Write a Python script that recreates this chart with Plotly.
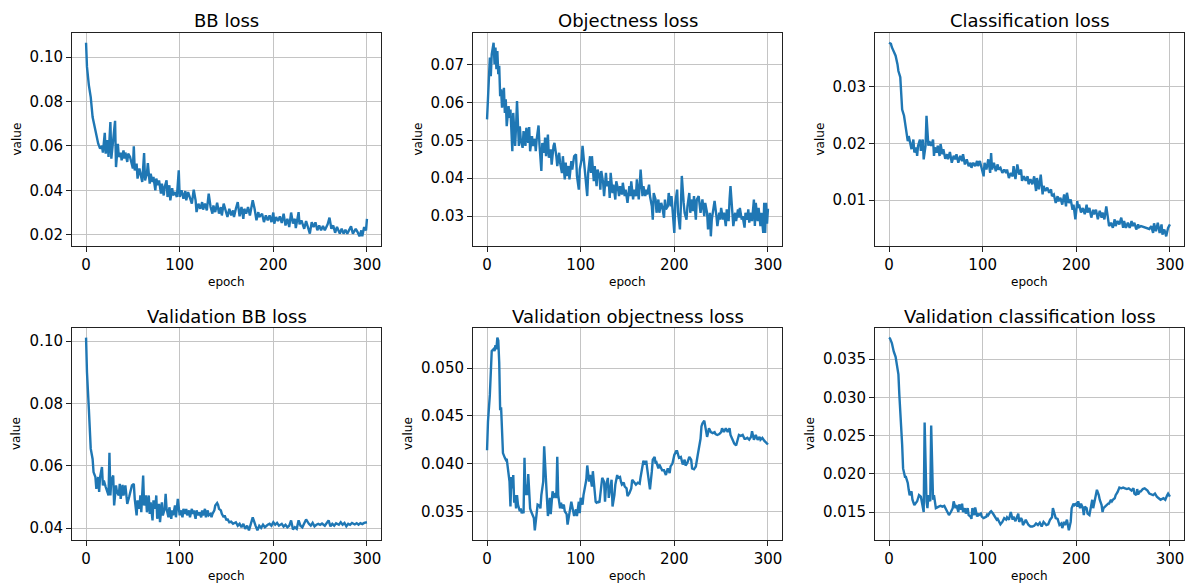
import plotly.graph_objects as go

# ---------------- data ----------------
bb_epoch = [0,1,3,5,7,9,11,13,15,17,18,20,21,23,24,26,27,29,31,32,34,35,37,38,40,41,42,44,45,47,50,51,52,54,55,57,58,60,62,63,65,66,68,69,71,72,74,75,77,78,80,81,83,84,86,87,89,90,92,93,95,97,99,100,102,104,106,107,109,111,113,115,117,118,120,122,124,125,127,129,131,133,135,136,138,140,142,144,145,147,149,151,153,155,157,158,160,162,164,166,168,169,171,173,175,177,178,180,182,184,185,188,190,192,194,196,198,200,201,203,205,207,209,211,213,215,217,219,221,223,224,227,228,230,233,235,237,239,241,243,245,247,249,251,253,255,258,260,262,264,266,268,271,273,275,277,279,281,283,285,288,290,292,294,295,297,299,300]
bb_loss = [0.1065,0.0956,0.0874,0.082,0.073,0.0686,0.065,0.061,0.0588,0.060,0.057,0.0659,0.0565,0.0626,0.055,0.0708,0.0543,0.064,0.0713,0.0505,0.061,0.055,0.057,0.0535,0.058,0.0543,0.057,0.0528,0.0565,0.055,0.0498,0.0598,0.049,0.052,0.0453,0.0498,0.0475,0.0438,0.0568,0.0445,0.0475,0.0523,0.043,0.0475,0.0438,0.046,0.040,0.0453,0.0423,0.0445,0.0385,0.043,0.0377,0.0415,0.0445,0.037,0.0423,0.0355,0.041,0.0377,0.0392,0.037,0.049,0.037,0.040,0.0362,0.0397,0.0355,0.0392,0.037,0.034,0.0403,0.0355,0.0302,0.034,0.0317,0.0347,0.0313,0.034,0.031,0.0385,0.0325,0.0295,0.0332,0.0302,0.0344,0.0295,0.0325,0.0287,0.034,0.031,0.028,0.0317,0.0287,0.031,0.028,0.0317,0.0347,0.0283,0.0325,0.0272,0.0317,0.0295,0.0325,0.0287,0.0332,0.0355,0.0317,0.0265,0.0302,0.028,0.0295,0.0257,0.0287,0.0265,0.0287,0.0257,0.030,0.025,0.028,0.0262,0.0283,0.0253,0.0295,0.0242,0.0272,0.0235,0.030,0.025,0.0272,0.023,0.0302,0.0247,0.0265,0.0227,0.0262,0.0235,0.0205,0.0257,0.0235,0.0256,0.022,0.0242,0.022,0.0239,0.022,0.0247,0.0277,0.0227,0.0242,0.0209,0.0235,0.0205,0.0227,0.0205,0.0223,0.0205,0.022,0.0238,0.0205,0.0227,0.0212,0.0193,0.022,0.0193,0.0235,0.022,0.0272]

obj_epoch = [0,1,2,3,4,5,7,8,9,10,11,12,13,14,15,16,18,19,20,21,23,24,25,27,28,30,31,32,34,35,36,38,39,41,42,44,45,46,48,49,51,52,53,55,56,58,59,61,62,63,65,66,68,69,71,72,74,75,77,78,80,81,83,84,85,87,88,90,91,93,95,96,98,99,101,102,104,105,107,108,110,111,112,114,115,117,118,120,121,122,124,125,127,128,130,131,132,134,135,137,138,140,141,142,144,145,147,148,150,152,153,154,156,157,159,160,162,163,164,166,167,169,170,171,173,174,176,177,178,180,181,183,184,186,187,189,190,191,193,194,196,197,198,200,201,203,204,206,207,208,210,211,213,214,216,217,219,220,221,223,224,226,228,229,230,232,233,235,236,238,239,240,242,243,245,246,248,249,250,252,253,255,256,258,259,260,262,263,265,266,268,269,270,272,273,275,276,278,279,280,282,283,285,286,287,289,290,292,293,295,296,297,298,299,300]
obj_loss = [0.0555,0.0608,0.066,0.0718,0.0669,0.0726,0.0757,0.070,0.0744,0.0687,0.0735,0.0674,0.0696,0.0616,0.0634,0.0586,0.0638,0.0572,0.0608,0.0537,0.059,0.0559,0.0581,0.0471,0.0572,0.0485,0.0537,0.0603,0.0485,0.0537,0.0502,0.048,0.0524,0.0485,0.0533,0.0493,0.0535,0.0471,0.0511,0.0485,0.0504,0.0471,0.0502,0.0539,0.0489,0.0419,0.0493,0.0467,0.0507,0.0458,0.0515,0.0454,0.0476,0.0436,0.0485,0.0493,0.0458,0.0432,0.0467,0.0441,0.0414,0.0458,0.0397,0.0441,0.0406,0.0432,0.0397,0.0445,0.0423,0.0458,0.0463,0.0406,0.037,0.0423,0.045,0.0485,0.0432,0.0397,0.0353,0.0414,0.0458,0.0414,0.0458,0.0392,0.0432,0.0379,0.0423,0.0406,0.037,0.0419,0.0388,0.0353,0.0414,0.0379,0.0392,0.0348,0.0414,0.0361,0.0383,0.0344,0.0392,0.037,0.0353,0.0379,0.0357,0.0388,0.0353,0.037,0.0335,0.0379,0.0353,0.0392,0.0344,0.037,0.0353,0.0397,0.0344,0.0379,0.0423,0.0353,0.0379,0.0353,0.037,0.0357,0.0383,0.0353,0.0326,0.0291,0.0361,0.0344,0.0309,0.0344,0.0309,0.0335,0.0326,0.0296,0.0344,0.0318,0.0326,0.0361,0.0326,0.0353,0.0309,0.0256,0.0335,0.037,0.0309,0.0265,0.0326,0.0406,0.0335,0.0309,0.0291,0.0326,0.0361,0.0309,0.0344,0.0313,0.0353,0.0291,0.0344,0.0353,0.0309,0.0326,0.0344,0.030,0.0335,0.0309,0.0265,0.0309,0.0247,0.0291,0.0318,0.034,0.030,0.0274,0.0309,0.0291,0.0322,0.0291,0.0309,0.0274,0.0318,0.0287,0.0344,0.0379,0.0309,0.0274,0.0309,0.0287,0.0318,0.0296,0.0322,0.0291,0.030,0.027,0.0309,0.0291,0.0318,0.0283,0.0309,0.0287,0.0344,0.0274,0.0335,0.0287,0.0322,0.0274,0.0309,0.0256,0.0335,0.0256,0.0335,0.028,0.032]

cls_epoch = [0,2,3,5,7,9,10,12,13,14,16,17,19,20,21,23,24,26,27,29,30,31,33,34,36,37,39,40,41,42,43,45,47,48,49,51,52,54,55,57,58,60,62,63,65,67,69,71,72,74,76,78,79,81,83,85,87,88,90,92,94,95,97,99,101,102,104,106,108,109,110,112,114,116,117,119,121,123,125,126,128,130,132,133,135,137,139,141,142,144,146,148,149,151,153,155,157,158,160,162,164,165,167,169,171,173,174,176,178,180,181,183,185,187,189,190,192,194,196,197,199,201,202,203,205,207,209,211,212,214,216,218,219,221,223,225,227,228,230,232,234,235,237,239,241,242,244,246,248,250,251,253,255,257,259,260,262,264,266,267,269,271,273,275,276,278,280,282,283,285,287,289,291,292,294,296,298,300]
cls_loss = [0.0378,0.0376,0.037,0.0361,0.0355,0.034,0.0328,0.0317,0.0284,0.026,0.0249,0.0237,0.0222,0.0204,0.0213,0.0201,0.019,0.0207,0.0184,0.0193,0.0178,0.0196,0.0207,0.0187,0.0207,0.0172,0.0196,0.0249,0.0207,0.0196,0.0204,0.0196,0.0207,0.0178,0.0193,0.0184,0.0196,0.0178,0.0199,0.0181,0.019,0.0173,0.0181,0.0172,0.0185,0.0166,0.0178,0.0172,0.0181,0.0166,0.0178,0.0169,0.0181,0.0163,0.0172,0.016,0.0166,0.0157,0.0166,0.016,0.0169,0.016,0.0169,0.0154,0.0142,0.0166,0.0154,0.0172,0.0148,0.0183,0.0154,0.0166,0.0151,0.0163,0.0154,0.0157,0.0148,0.0154,0.0148,0.0154,0.0139,0.0148,0.0142,0.016,0.0137,0.0163,0.0145,0.0154,0.0134,0.0142,0.0134,0.0142,0.0128,0.0137,0.0128,0.0142,0.0116,0.0139,0.0119,0.0145,0.011,0.0125,0.0116,0.0122,0.0113,0.0119,0.0107,0.011,0.0095,0.0107,0.0098,0.0104,0.0092,0.011,0.0089,0.0113,0.0095,0.0101,0.0083,0.0092,0.0066,0.0098,0.0086,0.0092,0.0078,0.0086,0.0075,0.0092,0.0078,0.0086,0.0069,0.0083,0.0075,0.0083,0.0066,0.0081,0.0069,0.0078,0.0066,0.0089,0.0066,0.0054,0.006,0.0051,0.0066,0.0054,0.0063,0.0057,0.0069,0.0051,0.0063,0.0051,0.006,0.0051,0.0063,0.0054,0.006,0.0048,0.0057,0.0052,0.0054,0.0053,0.0052,0.0051,0.0051,0.0049,0.0054,0.0042,0.0059,0.0045,0.006,0.0042,0.0057,0.0039,0.0048,0.0036,0.0051,0.0057]

vbb_epoch = [0,1,3,4,5,7,8,10,11,13,14,15,17,18,19,21,22,24,25,26,27,29,30,32,33,35,36,37,39,40,42,43,44,46,47,49,51,52,54,55,57,58,59,61,62,64,65,67,68,69,71,72,74,75,76,78,79,81,82,84,85,86,88,89,91,92,93,95,96,98,100,101,103,104,106,107,108,110,111,113,114,115,117,118,120,121,123,124,125,127,128,130,131,133,134,135,137,138,140,141,142,144,145,147,148,150,151,153,155,157,160,162,164,166,168,170,172,174,176,178,181,183,185,187,189,191,194,196,198,200,202,204,206,209,211,213,215,217,219,221,223,225,227,229,231,233,235,238,240,242,244,246,248,250,252,255,257,259,261,263,265,267,270,272,274,276,278,280,282,284,287,289,291,293,295,297,300]
vbb_loss = [0.1011,0.090,0.0783,0.0697,0.0655,0.0622,0.058,0.0564,0.0526,0.0564,0.0516,0.0564,0.0596,0.0537,0.0553,0.0532,0.0521,0.0505,0.0642,0.0505,0.0553,0.0569,0.0473,0.0537,0.0516,0.0505,0.0542,0.0494,0.0539,0.0505,0.0537,0.0489,0.0478,0.05,0.0516,0.0537,0.0542,0.0494,0.0441,0.0489,0.0462,0.0505,0.0451,0.0569,0.0473,0.0505,0.0451,0.0505,0.0446,0.0483,0.0425,0.0489,0.0462,0.0505,0.043,0.0478,0.0419,0.0483,0.0441,0.0462,0.051,0.0462,0.0435,0.0467,0.043,0.0457,0.0441,0.0473,0.0435,0.0494,0.0441,0.0457,0.0435,0.0462,0.0446,0.0462,0.0441,0.0457,0.0435,0.0462,0.0446,0.0457,0.043,0.0457,0.0441,0.0451,0.0435,0.0457,0.0441,0.0462,0.0435,0.0457,0.0441,0.0446,0.0435,0.0446,0.0457,0.0473,0.0481,0.0475,0.0462,0.0457,0.0446,0.0435,0.0441,0.0425,0.043,0.0419,0.0421,0.0414,0.0419,0.0408,0.0414,0.0403,0.0414,0.0398,0.0408,0.0393,0.0414,0.0435,0.0408,0.0393,0.0408,0.0401,0.0411,0.0403,0.0411,0.0414,0.0408,0.0419,0.0411,0.0417,0.0408,0.0414,0.0405,0.0411,0.0403,0.0408,0.0425,0.0396,0.0403,0.0398,0.0425,0.0408,0.0403,0.0414,0.0428,0.0414,0.0408,0.0417,0.0406,0.0411,0.0414,0.0411,0.0415,0.0408,0.0419,0.0425,0.0406,0.0414,0.0408,0.0416,0.0411,0.0419,0.0411,0.0417,0.0406,0.0414,0.0411,0.0417,0.0412,0.0416,0.0411,0.0416,0.0413,0.0417,0.0419]

vobj_epoch = [0,1,3,4,5,7,8,9,10,11,12,13,14,15,16,17,19,20,21,22,23,24,25,26,27,28,29,30,31,32,33,35,36,37,38,39,40,41,42,43,44,45,46,47,48,50,51,53,54,56,57,58,60,61,63,64,65,67,68,70,71,73,74,75,76,78,79,80,82,83,85,86,88,89,90,92,93,95,96,98,99,100,102,103,105,106,107,109,110,112,113,115,116,117,119,120,122,123,125,126,127,129,130,132,133,134,136,137,139,140,142,143,144,146,147,149,150,152,154,155,157,159,161,163,164,166,167,169,170,171,173,174,176,177,179,180,181,183,184,186,187,189,191,193,195,196,198,200,202,203,205,207,209,211,212,214,216,218,219,221,223,225,226,228,229,230,232,233,235,236,237,239,241,243,244,246,248,250,251,253,255,257,259,260,262,264,266,268,269,271,273,275,276,278,280,282,283,285,287,289,291,292,294,296,298,300]
vobj_loss = [0.0414,0.0444,0.0472,0.0496,0.0518,0.052,0.0518,0.0524,0.052,0.0532,0.0529,0.0506,0.0456,0.0459,0.0437,0.0411,0.0406,0.0404,0.0405,0.0395,0.0386,0.0381,0.0355,0.0386,0.0374,0.0388,0.0359,0.0367,0.0353,0.0367,0.0357,0.035,0.0353,0.0348,0.035,0.0348,0.0406,0.0367,0.0378,0.0367,0.0389,0.0364,0.0353,0.035,0.0347,0.0343,0.033,0.0353,0.0357,0.0356,0.0353,0.0367,0.0381,0.0418,0.0378,0.0374,0.0345,0.0364,0.0347,0.0371,0.0364,0.0369,0.0364,0.0407,0.0367,0.0353,0.0359,0.0353,0.0357,0.035,0.0347,0.0336,0.0347,0.0353,0.036,0.035,0.0345,0.0352,0.0345,0.036,0.0348,0.0364,0.0357,0.0367,0.0381,0.0383,0.0398,0.0381,0.0388,0.0376,0.0392,0.0367,0.036,0.0359,0.036,0.0359,0.0373,0.0385,0.0381,0.036,0.0376,0.0385,0.0364,0.0374,0.0383,0.0355,0.0367,0.0378,0.0388,0.0385,0.0386,0.0381,0.0378,0.038,0.0376,0.0374,0.0366,0.0369,0.0374,0.0383,0.038,0.0378,0.038,0.0379,0.0386,0.0399,0.0403,0.0399,0.0403,0.0395,0.0383,0.0373,0.0392,0.0404,0.0407,0.04,0.0401,0.0395,0.0399,0.0395,0.0393,0.0393,0.0388,0.0395,0.039,0.0397,0.04,0.0409,0.0413,0.0413,0.0406,0.0407,0.0399,0.0404,0.0398,0.0401,0.0407,0.0404,0.0395,0.0394,0.0397,0.0409,0.0415,0.0426,0.0439,0.0442,0.0445,0.044,0.0428,0.0432,0.0437,0.0433,0.0432,0.0433,0.0431,0.043,0.0431,0.0433,0.0437,0.0433,0.0437,0.0433,0.0437,0.043,0.0425,0.0421,0.0419,0.0426,0.043,0.0429,0.043,0.0426,0.0426,0.0427,0.0425,0.0428,0.0434,0.0425,0.043,0.0425,0.0428,0.0425,0.0427,0.0424,0.0422,0.042]

vcls_epoch = [0,1,3,4,5,7,8,10,11,13,14,15,17,18,20,21,22,24,25,27,28,30,31,32,34,35,37,38,40,41,42,44,45,47,48,50,51,53,55,57,59,62,64,66,68,69,71,72,74,75,77,78,79,81,82,84,85,87,88,89,91,92,94,95,96,98,99,101,102,104,105,106,108,109,111,112,113,115,116,118,119,121,122,123,125,126,128,129,130,132,133,135,136,138,139,141,142,143,145,146,148,149,151,153,155,157,159,161,163,165,168,170,172,174,175,177,178,180,181,182,184,185,187,188,190,191,192,194,195,197,198,200,201,202,204,205,207,208,209,211,212,214,215,217,218,219,221,222,224,225,227,228,229,231,232,234,235,237,238,239,241,242,244,245,246,248,250,252,254,256,259,261,262,264,265,266,268,269,271,273,276,278,280,282,284,286,288,290,293,295,297,298,300]
vcls_loss = [0.0378,0.0377,0.0371,0.0365,0.036,0.0353,0.0343,0.033,0.0303,0.0268,0.0238,0.0207,0.0196,0.0196,0.0188,0.0179,0.0172,0.0177,0.0166,0.0159,0.0161,0.0164,0.0168,0.0172,0.017,0.0164,0.015,0.0267,0.0164,0.0155,0.0172,0.0164,0.0263,0.0166,0.0172,0.0155,0.0156,0.0157,0.0158,0.0157,0.0158,0.0151,0.0146,0.015,0.0155,0.0164,0.0155,0.0159,0.015,0.016,0.0153,0.0161,0.015,0.0155,0.0148,0.0155,0.0146,0.0144,0.0141,0.0155,0.0146,0.0156,0.0144,0.0148,0.0146,0.0148,0.0144,0.0142,0.0143,0.0144,0.0148,0.0146,0.015,0.0151,0.0148,0.0146,0.0144,0.014,0.0141,0.0137,0.0134,0.0137,0.0141,0.0142,0.014,0.0143,0.014,0.0144,0.015,0.014,0.0144,0.0138,0.0142,0.0148,0.0137,0.0142,0.014,0.0133,0.0137,0.014,0.0135,0.0133,0.0131,0.0131,0.0132,0.0135,0.0133,0.0136,0.0131,0.0137,0.0133,0.0134,0.014,0.0143,0.0155,0.0146,0.0142,0.0141,0.0138,0.0133,0.0135,0.0129,0.0137,0.0133,0.014,0.0133,0.0126,0.0137,0.0155,0.0161,0.0159,0.0161,0.0157,0.0164,0.0155,0.0161,0.0155,0.0146,0.0157,0.0155,0.0148,0.0146,0.0153,0.0166,0.0155,0.0161,0.0172,0.0179,0.0172,0.0166,0.0159,0.015,0.0155,0.0158,0.0159,0.0161,0.0161,0.0166,0.0164,0.0166,0.0168,0.0172,0.0176,0.0181,0.0182,0.0181,0.0182,0.0181,0.018,0.0181,0.0178,0.0181,0.0174,0.0172,0.018,0.0173,0.0177,0.0177,0.018,0.0181,0.0178,0.0174,0.0173,0.0172,0.0174,0.017,0.0168,0.0166,0.0168,0.0166,0.0172,0.0174,0.017]

titles = ["BB loss", "Objectness loss", "Classification loss",
          "Validation BB loss", "Validation objectness loss", "Validation classification loss"]
x_ticks = [0, 100, 200, 300]
y_dticks = [0.02, 0.01, 0.01, 0.02, 0.005, 0.005]
y_formats = [".2f", ".2f", ".2f", ".2f", ".3f", ".3f"]

series = [(bb_epoch, bb_loss), (obj_epoch, obj_loss), (cls_epoch, cls_loss),
          (vbb_epoch, vbb_loss), (vobj_epoch, vobj_loss), (vcls_epoch, vcls_loss)]

# ---------------- layout ----------------
W, H = 1192, 583
col_px = [(72, 381), (473, 782), (875, 1184)]
row_px = [(33, 246), (328, 540)]
ylabel_shift = [-56, -56, -56, -56, -65, -65]
FONT = "DejaVu Sans"

fig = go.Figure()
layout = dict(width=W, height=H, margin=dict(l=0, r=0, t=0, b=0),
              paper_bgcolor="white", plot_bgcolor="white", showlegend=False,
              font=dict(family=FONT, color="black"))
annotations = []

for i, (ep, vals) in enumerate(series):
    r, c = divmod(i, 3)
    n = i + 1
    xa = "x" if n == 1 else f"x{n}"
    ya = "y" if n == 1 else f"y{n}"
    fig.add_trace(go.Scatter(x=ep, y=vals, mode="lines", xaxis=xa, yaxis=ya,
                             line=dict(color="#1f77b4", width=2.4), hoverinfo="skip"))
    xd = [col_px[c][0] / W, col_px[c][1] / W]
    yd = [1 - row_px[r][1] / H, 1 - row_px[r][0] / H]
    xmin, xmax = min(ep), max(ep)
    ymin, ymax = min(vals), max(vals)
    xs, ys = xmax - xmin, ymax - ymin
    common = dict(showline=True, linecolor="#222", linewidth=1, mirror=True,
                  ticks="outside", ticklen=5, tickwidth=1, tickcolor="#222",
                  showgrid=True, gridcolor="#c4c4c4", gridwidth=1, zeroline=False,
                  tickfont=dict(family=FONT, size=15, color="black"))
    layout["xaxis" if n == 1 else f"xaxis{n}"] = dict(
        domain=xd, anchor=ya, range=[xmin - 0.05 * xs, xmax + 0.05 * xs],
        tickmode="array", tickvals=x_ticks, **common)
    layout["yaxis" if n == 1 else f"yaxis{n}"] = dict(
        domain=yd, anchor=xa, range=[ymin - 0.05 * ys, ymax + 0.05 * ys],
        tick0=0, dtick=y_dticks[i], tickformat=y_formats[i], **common)
    xc = (xd[0] + xd[1]) / 2
    annotations.append(dict(text=titles[i], x=xc, y=yd[1], xref="paper", yref="paper",
                            xanchor="center", yanchor="middle", yshift=12, showarrow=False,
                            font=dict(family=FONT, size=18, color="black")))
    annotations.append(dict(text="epoch", x=xc, y=yd[0], xref="paper", yref="paper",
                            xanchor="center", yanchor="middle", yshift=-36, showarrow=False,
                            font=dict(family=FONT, size=12, color="black")))
    annotations.append(dict(text="value", x=xd[0], y=(yd[0] + yd[1]) / 2, xref="paper",
                            yref="paper", xanchor="center", yanchor="middle",
                            xshift=ylabel_shift[i], textangle=-90, showarrow=False,
                            font=dict(family=FONT, size=12, color="black")))

layout["annotations"] = annotations
fig.update_layout(**layout)
fig.write_html("out.html")
